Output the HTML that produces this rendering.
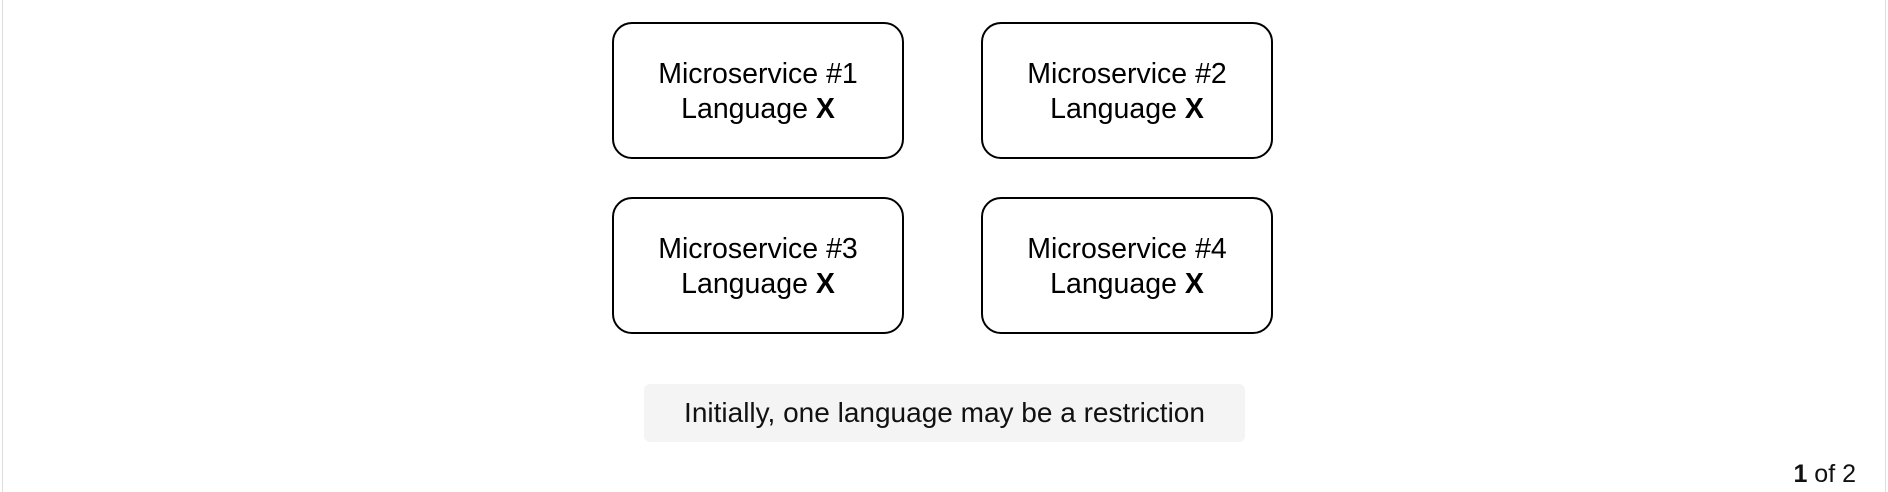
<!DOCTYPE html>
<html><head><style>
body{margin:0;width:1888px;height:492px;background:#fff;position:relative;overflow:hidden;font-family:"Liberation Sans",sans-serif}
.b{position:absolute;width:292px;height:137px;border:2px solid #000;border-radius:20px;box-sizing:border-box;display:flex;flex-direction:column;justify-content:center;align-items:center;font-size:28.5px;line-height:35px;color:#000;padding-top:3px}
.cap{position:absolute;left:644px;top:384px;width:601px;height:58px;background:#f4f4f4;border-radius:6px;display:flex;align-items:center;justify-content:center;font-size:28px;color:#111}
.pg{position:absolute;right:32px;top:460px;font-size:25px;color:#111}
.lb{position:absolute;left:2px;top:0;width:1px;height:492px;background:#ddd}
.rb{position:absolute;right:2px;top:0;width:1px;height:492px;background:#ddd}
</style></head><body>
<div class="lb"></div><div class="rb"></div>
<div class="b" style="left:612px;top:22px"><div>Microservice #1</div><div>Language <b>X</b></div></div>
<div class="b" style="left:981px;top:22px"><div>Microservice #2</div><div>Language <b>X</b></div></div>
<div class="b" style="left:612px;top:197px"><div>Microservice #3</div><div>Language <b>X</b></div></div>
<div class="b" style="left:981px;top:197px"><div>Microservice #4</div><div>Language <b>X</b></div></div>
<div class="cap">Initially, one language may be a restriction</div>
<div class="pg"><b>1</b> of 2</div>
</body></html>
